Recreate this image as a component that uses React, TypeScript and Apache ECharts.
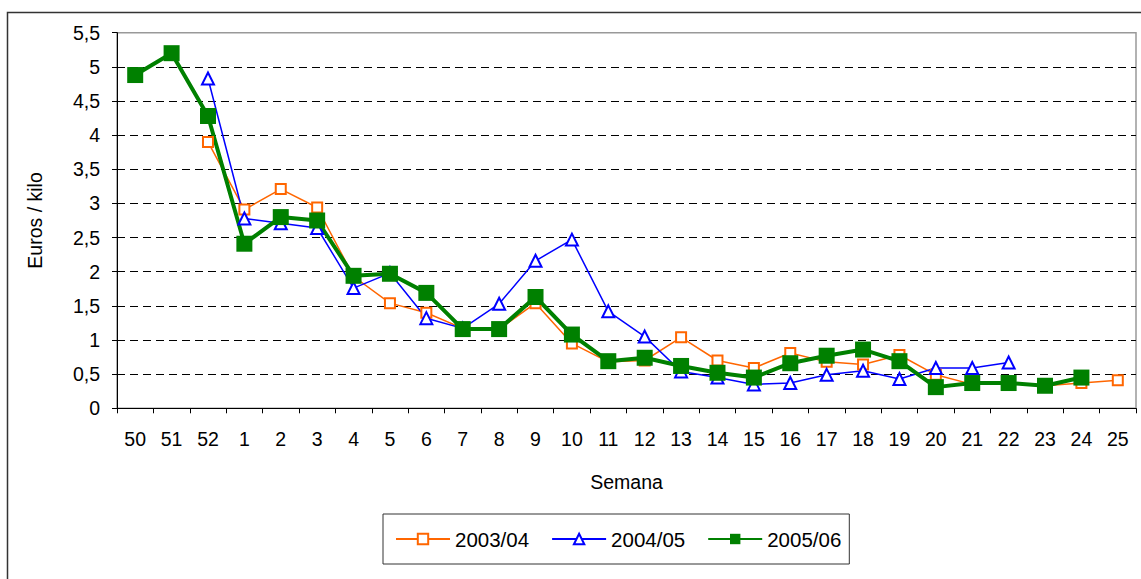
import React, { useEffect, useRef } from "react";
import * as echarts from "echarts";

const weeks = ["50", "51", "52", "1", "2", "3", "4", "5", "6", "7", "8", "9", "10", "11", "12", "13", "14", "15", "16", "17", "18", "19", "20", "21", "22", "23", "24", "25"];

const s2003: (number | null)[] = [null, null, 3.9, 2.91, 3.21, 2.94, 1.93, 1.54, 1.4, 1.17, 1.16, 1.54, 0.95, 0.68, 0.7, 1.04, 0.7, 0.59, 0.81, 0.68, 0.64, 0.78, 0.49, 0.35, 0.37, 0.33, 0.37, 0.41];
const s2004: (number | null)[] = [null, null, 4.83, 2.78, 2.71, 2.64, 1.76, 1.98, 1.32, 1.17, 1.53, 2.16, 2.47, 1.42, 1.05, 0.54, 0.45, 0.35, 0.37, 0.49, 0.55, 0.43, 0.59, 0.59, 0.67, null, null, null];
const s2005: (number | null)[] = [4.88, 5.2, 4.28, 2.41, 2.8, 2.75, 1.94, 1.97, 1.69, 1.16, 1.16, 1.63, 1.08, 0.69, 0.74, 0.62, 0.52, 0.45, 0.66, 0.77, 0.86, 0.69, 0.31, 0.37, 0.37, 0.33, 0.45, null];

const seriesNames = ["2003/04", "2004/05", "2005/06"];

const FONT = "Liberation Sans, Arial, sans-serif";
const FS = 19.5;

export default function App() {
  const ref = useRef<HTMLDivElement>(null);
  useEffect(() => {
    if (!ref.current) return;
    const chart = echarts.init(ref.current, null, { renderer: "svg" });
    chart.setOption({
      animation: false,
      backgroundColor: "#ffffff",
      textStyle: { fontFamily: FONT },
      graphic: [
        {
          type: "rect",
          shape: { x: 7.5, y: 12.5, width: 1200, height: 700 },
          style: { fill: "none", stroke: "#333333", lineWidth: 1.5 },
          silent: true,
          z: -10,
        },
      ],
      grid: {
        left: 117,
        right: 5,
        top: 32.7,
        bottom: 170.7,
        show: true,
        borderColor: "#999999",
        borderWidth: 1.5,
        backgroundColor: "transparent",
      },
      legend: {
        left: 383,
        top: 514,
        padding: [14, 8, 14, 12],
        borderColor: "#333333",
        borderWidth: 1,
        itemWidth: 54,
        itemHeight: 13,
        itemGap: 22,
        textStyle: { fontSize: 20.5, color: "#000", fontFamily: FONT, lineHeight: 22 },
        data: seriesNames,
      },
      xAxis: {
        type: "category",
        data: weeks,
        boundaryGap: true,
        name: "Semana",
        nameLocation: "middle",
        nameGap: 64,
        nameTextStyle: { fontSize: FS, color: "#000", fontFamily: FONT },
        axisLine: { lineStyle: { color: "#000", width: 1 } },
        axisTick: { show: true, length: 5, inside: false, lineStyle: { color: "#000" } },
        axisLabel: { fontSize: FS, color: "#000", margin: 21, interval: 0, fontFamily: FONT },
        splitLine: { show: false },
      },
      yAxis: {
        type: "value",
        min: 0,
        max: 5.5,
        interval: 0.5,
        name: "Euros / kilo",
        nameLocation: "middle",
        nameRotate: 90,
        nameGap: 72,
        nameTextStyle: { fontSize: FS, color: "#000", fontFamily: FONT },
        axisLine: { show: true, lineStyle: { color: "#000", width: 1 } },
        axisTick: { show: true, length: 5, inside: false, lineStyle: { color: "#000" } },
        axisLabel: {
          fontSize: FS,
          color: "#000",
          margin: 17,
          fontFamily: FONT,
          formatter: (v: number) => String(v).replace(".", ","),
        },
        splitLine: {
          show: true,
          showMinLine: false,
          showMaxLine: false,
          lineStyle: { color: "#000", type: [8, 5], width: 1 },
        },
      },
      series: [
        {
          name: seriesNames[0],
          type: "line",
          data: s2003,
          symbol: "emptyRect",
          symbolSize: 10,
          lineStyle: { color: "#FF6600", width: 1.5 },
          itemStyle: { color: "#FF6600", borderColor: "#FF6600", borderWidth: 1.5 },
          color: "#FF6600",
        },
        {
          name: seriesNames[1],
          type: "line",
          data: s2004,
          symbol: "emptyTriangle",
          symbolSize: 12,
          lineStyle: { color: "#0000FF", width: 1.5 },
          itemStyle: { color: "#0000FF", borderColor: "#0000FF", borderWidth: 1.5 },
          color: "#0000FF",
        },
        {
          name: seriesNames[2],
          type: "line",
          data: s2005,
          symbol: "rect",
          symbolSize: 16,
          lineStyle: { color: "#008000", width: 4 },
          itemStyle: { color: "#008000" },
          color: "#008000",
        },
      ],
    });
    return () => chart.dispose();
  }, []);
  return (
    <div
      ref={ref}
      style={{ position: "fixed", left: 0, top: 0, width: 1141, height: 579, background: "#fff" }}
    />
  );
}
